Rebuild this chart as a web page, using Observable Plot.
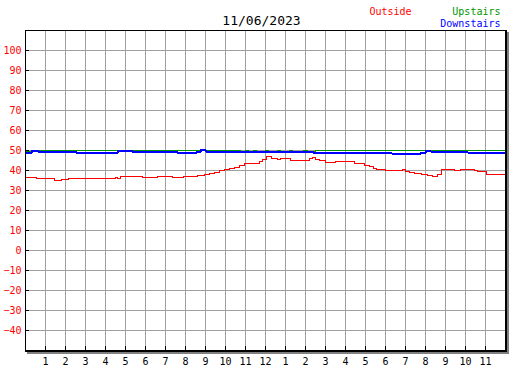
<!DOCTYPE html>
<html><head><meta charset="utf-8">
<script src="https://cdn.jsdelivr.net/npm/d3@7"></script>
<script src="https://cdn.jsdelivr.net/npm/@observablehq/plot@0.6"></script>
<style>html,body{margin:0;padding:0;background:#fff} svg{display:block}</style>
</head><body><div id="chart"></div>
<script>
const title = "11/06/2023";
const seriesNames = ["Outside", "Upstairs", "Downstairs"];
const seriesColors = ["#ff0000", "#009600", "#0000ff"];
const yTicks = [100, 90, 80, 70, 60, 50, 40, 30, 20, 10, 0, -10, -20, -30, -40];
const xTicks = [1, 2, 3, 4, 5, 6, 7, 8, 9, 10, 11, 12, 13, 14, 15, 16, 17, 18, 19, 20, 21, 22, 23];
const xTickLabels = ["1","2","3","4","5","6","7","8","9","10","11","12","1","2","3","4","5","6","7","8","9","10","11"];

// hours since midnight, temperature
const outsideHours = [0, 0.55, 1.45, 1.8, 2.15, 4.2, 4.35, 4.5, 4.6, 4.75, 5.85, 6.6, 7.35, 7.9, 8.6, 8.95, 9.2, 9.45, 9.7, 9.95, 10.2, 10.45, 10.7, 10.95, 11.1, 11.55, 11.7, 11.85, 12.05, 12.3, 12.6, 12.75, 13.25, 14.2, 14.35, 14.5, 14.7, 15.0, 15.5, 16.45, 16.95, 17.2, 17.4, 17.55, 18.0, 18.85, 19.0, 19.2, 19.45, 19.8, 20.1, 20.35, 20.6, 20.8, 21.45, 21.75, 22.45, 22.6, 23.05, 24];
const outsideTemps = [36.5, 36, 35.2, 35.5, 35.8, 36.2, 35.8, 36.3, 35.9, 37, 36.7, 37, 36.7, 37, 37.5, 37.8, 38.5, 39, 39.8, 40.5, 41, 41.5, 42.3, 43.5, 43.3, 43.5, 44.5, 45.5, 47, 46.2, 45.5, 45.8, 45.2, 45.8, 46.3, 45.5, 45, 44, 44.3, 43.7, 42.7, 42, 41, 40.3, 39.8, 40.3, 39.5, 39, 38.5, 38.2, 37.3, 36.8, 37.8, 40.3, 40, 40.3, 40, 39.3, 38.2, 38.2];

const upstairsHours = [0, 0.35, 10.75, 11.0, 11.15, 11.4, 11.55, 12.0, 12.15, 12.6, 12.75, 13.2, 13.35, 13.9, 14.1, 14.5, 24];
const upstairsTemps = [49.3, 49.8, 49.3, 49.8, 49.3, 49.8, 49.3, 49.8, 49.3, 49.8, 49.3, 49.8, 49.3, 49.8, 49.3, 49.8, 49.8];

const downstairsHours = [0, 0.3, 0.65, 2.55, 4.6, 5.35, 7.6, 8.55, 8.75, 9.0, 10.75, 14.4, 14.75, 18.3, 19.75, 20.0, 20.25, 22.1, 24];
const downstairsTemps = [48.8, 50, 49.3, 48.8, 50, 49.3, 48.8, 49.5, 50.3, 49.5, 49.3, 48.8, 49, 48.5, 49, 50, 49.5, 49, 49];

const toRows = (hs, vs) => hs.map((h, i) => ({h, v: vs[i]}));
const outside = toRows(outsideHours, outsideTemps);
const upstairs = toRows(upstairsHours, upstairsTemps);
const downstairs = toRows(downstairsHours, downstairsTemps);

const grid = "#a0a0a0";
const chart = Plot.plot({
  width: 527, height: 370,
  marginLeft: 25, marginRight: 22, marginTop: 30, marginBottom: 20,
  x: {domain: [0, 24]},
  y: {domain: [-50, 110]},
  style: {fontFamily: "'DejaVu Sans Mono', monospace", fontSize: "10px", background: "white", color: "black"},
  marks: [
    Plot.gridX(xTicks, {stroke: grid, strokeOpacity: 1}),
    Plot.gridY(yTicks, {stroke: grid, strokeOpacity: 1}),
    Plot.tickY(yTicks, {y: d => d, stroke: "black", insetRight: 476}),
    Plot.tickX(xTicks, {x: d => d, stroke: "black", insetTop: 316}),
    Plot.axisY(yTicks, {tickSize: 0, tickPadding: 4, fill: "red", label: null}),
    Plot.axisX(xTicks, {tickSize: 0, tickPadding: 7, label: null, tickFormat: d => xTickLabels[xTicks.indexOf(d)]}),
    Plot.line(outside, {x: "h", y: "v", stroke: seriesColors[0], strokeWidth: 1, curve: "step-after", shapeRendering: "crispEdges"}),
    Plot.line(upstairs, {x: "h", y: "v", stroke: seriesColors[1], strokeWidth: 1, curve: "step-after", shapeRendering: "crispEdges"}),
    Plot.line(downstairs, {x: "h", y: "v", stroke: seriesColors[2], strokeWidth: 2, curve: "step-after", shapeRendering: "crispEdges"}),
    Plot.frame({stroke: "black"}),
    Plot.ruleY([-50], {stroke: "black", strokeWidth: 2, dy: 0.5, insetRight: -2}),
    Plot.ruleY([-50], {stroke: "#808080", strokeWidth: 2, dy: 2.5, insetLeft: 2, insetRight: -4}),
    Plot.ruleX([24], {stroke: "black", strokeWidth: 2, dx: 0.5, insetBottom: -2}),
    Plot.ruleX([24], {stroke: "#808080", strokeWidth: 2, dx: 2.5, insetTop: 2, insetBottom: -4}),
    Plot.text([title], {frameAnchor: "top", text: d => d, dx: -4, dy: -10, fontSize: 13, lineAnchor: "middle", fill: "black"}),
    Plot.text([seriesNames[0]], {frameAnchor: "top-right", text: d => d, textAnchor: "start", dx: -136, dy: -19, lineAnchor: "middle", fill: seriesColors[0]}),
    Plot.text([seriesNames[1]], {frameAnchor: "top-right", text: d => d, textAnchor: "end", dx: -5, dy: -19, lineAnchor: "middle", fill: seriesColors[1]}),
    Plot.text([seriesNames[2]], {frameAnchor: "top-right", text: d => d, textAnchor: "end", dx: -5, dy: -7, lineAnchor: "middle", fill: seriesColors[2]})
  ]
});
document.getElementById("chart").append(chart);
</script>
</body></html>
